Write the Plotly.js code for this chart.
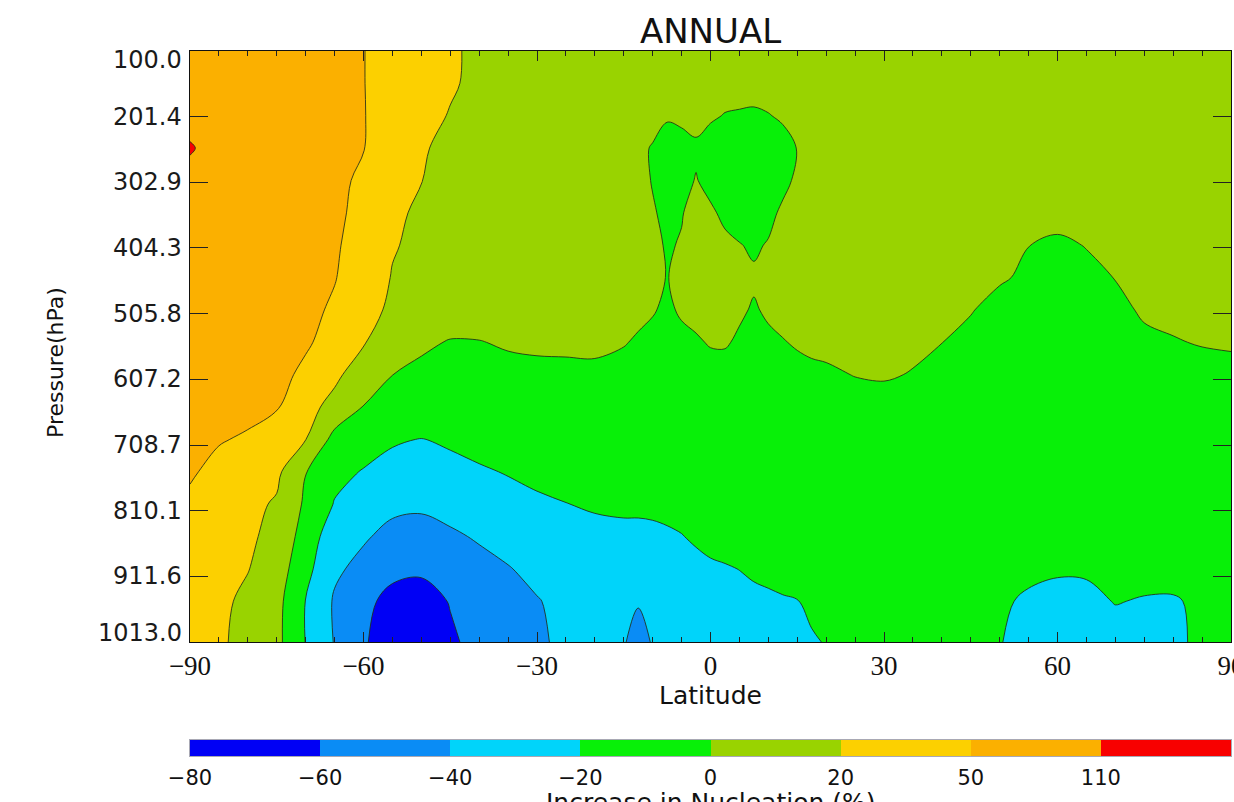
<!DOCTYPE html>
<html>
<head>
<meta charset="utf-8">
<script src="https://cdn.plot.ly/plotly-3.0.1.min.js"></script>
<style>
html,body{margin:0;padding:0;background:#ffffff;}
#chart{width:1234px;height:802px;}
</style>
</head>
<body>
<div id="chart"></div>
<script>
// ---- Data (percent increase in nucleation) ----
const latitudes = [-90,-85,-80,-75,-70,-65,-60,-55,-50,-45,-40,-35,-30,-25,-20,-15,
  -12.5,-10,-7.5,-5,-2.5,0,2.5,5,7.5,10,12.5,15,17.5,20,
  25,30,35,40,45,50,55,60,65,70,75,80,85,90];
const pressureLevels = [100,150,200,250,300,350,400,450,500,550,600,650,700,750,800,850,900,950,1013];

const row100 = [88,82,76,70,63,57,51,41,33,23,17,14,12,11,10,10,
  10,10,9,9,9,9,9,9,9,9,9,9,10,10,
  10,10,10,10,10,10,10,10,10,10,10,10,10,10];
const row150 = [89,84,78,72,64,57,51,41,33,23,16,13,11,10,9,8,
  7,6,5,5,4.5,4.5,4.5,4,4,5,5.5,6,7,8,
  9,9,9,9,9,9,9,9,9,9,9,9,9,9];
const row200 = [90,85,80,74,66,58,52,38,29,19,14,12,10,9,8,7,
  6,5,1,3,3,1.5,-0.5,-1,-1.5,-0.5,1.5,3,5,6,
  8,8,8,8,8,8,8,8,8,8,8,8,8,8];
const row250 = [115,88,82,76,68,60,51,40,23,15,13,11,9,8,7,5,
  3,-1,-4,-5,-1.5,-5,-6,-7,-7,-6,-4,0.3,3,5,
  8,8,8,8,8,8,8,8,8,8,8,8,8,8];
const row300 = [92,87,81,75,67,58,47,33,20.5,15,12,10,9,8,7,5,
  3,-0.5,-5,-3,0.5,-3,-6,-7,-8,-6,-3,2,4,6,
  8,8,8,8,7,7,6,6,6,7,8,8,8,8];
const row350 = [92,87,81,74,66,57,45,27,16,14,12,10,9,8,7,5,
  3,0.8,-2,-0.5,3,1.5,-2,-5,-6,-3,2,4,5,6,
  8,8,7,7,6,5,4,3,4,5,6,7,7,7];
const row400 = [93,88,81,73,65,54,43,22,16,13,11,10,9,8,7,6,
  4,2,-0.8,0.6,3,3,2,0.5,-1.5,0.8,3,5,6,7,
  7,7,6,5,4,2,0.1,-1.5,0.3,3,4,5,5,5];
const row450 = [93,88,80,72,63,52,38,19,14,11,9,8,7,6,5,4,
  2.5,1.5,-0.2,1.5,3,3.5,3,2,1.5,2.5,4,5,6,6,
  6,6,5,4,3,1,-1.5,-3,-2,0.2,2.5,4,4,4];
const row500 = [92,87,79,70,61,47,32,16,12,9,7,6,5,5,4,3,
  2,0.8,-2,1.5,3,3,2.5,1.5,-1,1.5,3,4,5,5,
  5,5,4,2.5,0.5,-3,-5,-6,-5,-2,1,2,3,3];
const row550 = [91,86,78,68,56,41,22,10,3,-1,-0.5,1.5,2.5,2.5,2,0.5,
  -1,-3,-4,-3,-1.2,0.8,1,-1.5,-3,-2,-0.5,1,2,2.5,
  3,3,2,0.1,-2.5,-5,-7,-8,-6,-4,-1.5,-0.5,0.5,1];
const row600 = [90,84,76,64,45,27,8,0.1,-4,-5,-5,-4,-3.5,-3,-2,-3,
  -4,-5,-6,-6,-5,-4,-4,-5,-6,-5,-4,-3,-2,-1.5,
  0.3,1,-0.5,-3,-5,-7,-9,-10,-9,-7,-5,-4,-3,-2.5];
const row650 = [89,82,73,55,31,13,-0.5,-5,-8,-8,-7,-6,-6,-5,-5,-5,
  -6,-7,-7,-7,-7,-6,-6,-7,-7,-7,-6,-5,-5,-5,
  -4,-4,-5,-6,-8,-10,-11,-12,-11,-10,-8,-7,-6,-6];
const row700 = [88,56,45,28,20.5,-6,-12,-18,-20.5,-17,-14,-12,-10,-9,-8,-8,
  -8,-8,-9,-9,-9,-9,-9,-9,-9,-9,-9,-8,-8,-8,
  -7,-7,-7,-8,-9,-11,-12,-13,-12,-11,-10,-9,-8,-8];
const row750 = [60,38,31,26,0.5,-15,-21,-26,-30,-26,-22,-19,-17,-15,-14,-13,
  -13,-12,-12,-12,-11,-11,-10,-10,-10,-10,-10,-10,-10,-10,
  -9,-9,-9,-10,-11,-12,-13,-14,-14,-13,-12,-11,-10,-10];
const row800 = [42,33,27,18,-3,-21,-30,-36,-37,-33,-30,-26,-22,-20.3,-18,-17,
  -17,-17,-16,-15,-14,-13,-12.5,-12,-12,-11.5,-11,-11,-10,-10,
  -10,-10,-10,-11,-12,-13,-14,-15,-15,-14,-13,-12,-12,-12];
const row850 = [38,31,25,14,-8,-32,-38,-45,-47,-43,-38,-33,-29,-26,-25,-24,
  -24,-23,-22,-20.5,-18,-16,-15,-14,-13,-13,-12,-12,-12,-11,
  -11,-11,-11,-12,-13,-14,-16,-17,-17,-16,-15,-15,-14,-14];
const row900 = [35,29,21,10,-14,-37,-45,-55,-57,-52,-46,-41,-35,-31,-29,-28,
  -28,-27,-26,-25,-24,-22,-21,-19.8,-18,-17,-16,-15,-14,-13,
  -12,-12,-12,-13,-14,-15,-17,-18.5,-18.5,-17,-16,-16,-15,-15];
const row950 = [33,26,16,6,-20.5,-42,-55,-66,-68,-59,-52,-46,-41,-35,-32,-31,
  -38,-31,-29,-28,-27,-26,-25,-24,-23,-22,-21,-20.3,-18,-16,
  -14,-13,-13,-13,-15,-18,-22,-24,-23,-19.5,-20.8,-21,-18,-16];
const row1013 = [31,25,13,5,-20.5,-41,-58,-70,-72,-63,-54,-49,-43,-36,-33,-38,
  -50,-38,-30,-28,-27,-26,-25,-25,-24,-24,-23,-22,-21,-19.5,
  -16,-14,-14,-14,-16,-19.5,-24,-26,-26,-25,-24,-22,-18,-16];

const levelValues = [-80,-60,-40,-20,0,20,50,110];
const levelColors = ['#0000f5','#0a8cf5','#00d4fa','#08f008','#99d300','#fcd000','#fbb000','#f80000'];
const pressureTickValues = [100.0,201.4,302.9,404.3,505.8,607.2,708.7,810.1,911.6,1013.0];
const pressureTickLabels = ['100.0','201.4','302.9','404.3','505.8','607.2','708.7','810.1','911.6','1013.0'];
const latitudeTicks = [-90,-60,-30,0,30,60,90];

// ---- Build ----
const rows = [row100,row150,row200,row250,row300,row350,row400,row450,row500,row550,
  row600,row650,row700,row750,row800,row850,row900,row950,row1013];

// position of a value among the unevenly spaced contour levels
function toBandIndex(v) {
  const L = levelValues;
  if (v < L[0]) return (v - L[0]) / (L[1] - L[0]);
  for (let i = 0; i < L.length - 1; i++) {
    if (v < L[i + 1]) return i + (v - L[i]) / (L[i + 1] - L[i]);
  }
  const n = L.length - 1;
  return n + (v - L[n]) / (L[n] - L[n - 1]);
}
const zIndex = rows.map(r => r.map(toBandIndex));
const nC = levelColors.length;
const colorscale = levelColors.map((c, i) => [i / (nC - 1), c]);
const minusFix = s => String(s).replace('-', '\u2212');

const contourTrace = {
  type: 'contour',
  x: latitudes,
  y: pressureLevels,
  z: zIndex,
  colorscale: colorscale,
  showscale: false,
  autocontour: false,
  contours: {start: 1, end: nC - 1, size: 1, coloring: 'fill', showlines: true},
  line: {color: 'rgba(35,45,25,0.85)', width: 1, smoothing: 1},
  hoverinfo: 'skip'
};

const barTrace = {
  type: 'heatmap',
  x: levelValues.map((_, i) => i + 0.5),
  y: [0],
  z: [levelValues.map((_, i) => i)],
  zmin: 0, zmax: nC - 1,
  colorscale: colorscale,
  showscale: false,
  xaxis: 'x2', yaxis: 'y2',
  hoverinfo: 'skip'
};

const H = 802, mt = 51, mb = 46;
const paperH = H - mt - mb;
const plotBottomPx = 642, barTopPx = 740, barBotPx = 756;
const pxToPaperY = px => (H - mb - px) / paperH;

const annotations = pressureTickValues.map((v, i) => ({
  xref: 'paper', yref: 'y', x: 0, y: v,
  xanchor: 'right', yanchor: 'middle', xshift: -6,
  yshift: i === 0 ? -9 : (i === pressureTickValues.length - 1 ? 9 : 0),
  text: pressureTickLabels[i], showarrow: false,
  font: {family: 'DejaVu Sans', size: 24, color: '#1a1a1a'}
}));
annotations.push({
  xref: 'paper', yref: 'paper', x: -135 / 1041, y: pxToPaperY(363),
  xanchor: 'center', yanchor: 'middle', textangle: -90,
  text: 'Pressure(hPa)', showarrow: false,
  font: {family: 'DejaVu Sans', size: 22, color: '#111'}
});
annotations.push({
  xref: 'paper', yref: 'paper', x: 0.5, y: pxToPaperY(786),
  xanchor: 'center', yanchor: 'top',
  text: 'Increase in Nucleation (%)', showarrow: false,
  font: {family: 'DejaVu Sans', size: 25, color: '#111'}
});

const axisCommon = {
  showgrid: false, zeroline: false, showline: true, linecolor: '#111', linewidth: 1,
  mirror: 'allticks', ticks: 'inside', tickcolor: '#222', tickwidth: 1
};

const layout = {
  width: 1234, height: H,
  margin: {l: 190, r: 3, t: mt, b: mb, pad: 0},
  paper_bgcolor: '#ffffff', plot_bgcolor: '#ffffff',
  showlegend: false,
  title: {text: 'ANNUAL', x: 0.5, xref: 'paper', xanchor: 'center',
    y: 1 - 31 / H, yref: 'container', yanchor: 'middle',
    font: {family: 'DejaVu Sans', size: 34, color: '#111'}},
  xaxis: Object.assign({}, axisCommon, {
    domain: [0, 1], anchor: 'y', range: [-90, 90],
    tickvals: latitudeTicks, ticktext: latitudeTicks.map(minusFix), ticklen: 10,
    minor: {tick0: -90, dtick: 5, ticks: 'inside', ticklen: 5, tickcolor: '#222', showgrid: false},
    tickfont: {family: 'Liberation Serif', size: 27, color: '#111'},
    ticklabelstandoff: 0, ticklabeloverflow: 'allow',
    title: {text: 'Latitude', font: {family: 'DejaVu Sans', size: 25, color: '#111'}, standoff: 0}
  }),
  yaxis: Object.assign({}, axisCommon, {
    domain: [pxToPaperY(plotBottomPx), 1], anchor: 'x', range: [1013, 100],
    tickvals: pressureTickValues, ticklen: 18, showticklabels: false
  }),
  xaxis2: {
    domain: [0, 1], anchor: 'y2', range: [0, nC],
    showgrid: false, zeroline: false, showline: true, mirror: true,
    linecolor: 'rgba(110,110,130,0.6)', linewidth: 1, ticks: '',
    tickvals: levelValues.map((_, i) => i), ticktext: levelValues.map(minusFix),
    tickfont: {family: 'DejaVu Sans', size: 21, color: '#111'},
    ticklabelstandoff: 3, ticklabeloverflow: 'allow'
  },
  yaxis2: {
    domain: [pxToPaperY(barBotPx), pxToPaperY(barTopPx)], anchor: 'x2',
    range: [-0.5, 0.5], showgrid: false, zeroline: false, showticklabels: false, ticks: '',
    showline: true, mirror: true, linecolor: 'rgba(110,110,130,0.6)', linewidth: 1
  },
  annotations: annotations
};

Plotly.newPlot('chart', [contourTrace, barTrace], layout, {staticPlot: true, displayModeBar: false});
</script>
</body>
</html>
